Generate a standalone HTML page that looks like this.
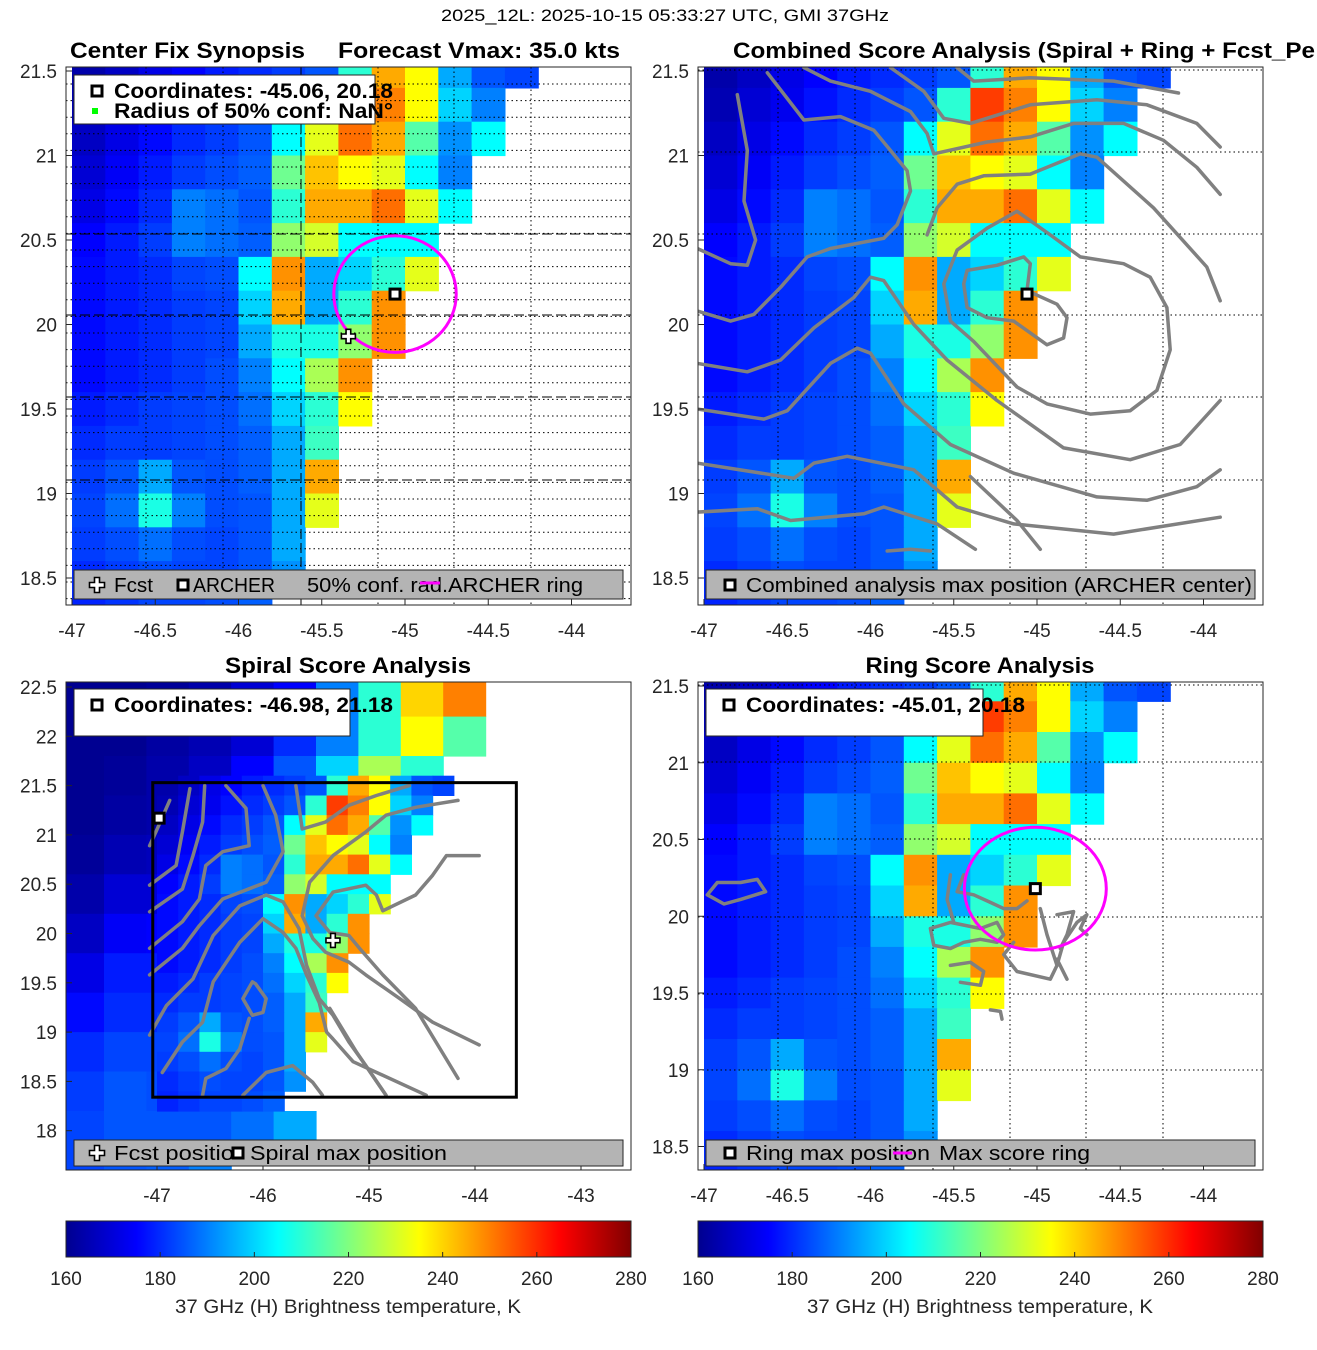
<!DOCTYPE html>
<html><head><meta charset="utf-8"><style>
html,body{margin:0;padding:0;background:#fff;}
svg{display:block;font-family:"Liberation Sans",sans-serif;}
</style></head><body>
<svg id="fig" width="1317" height="1350" viewBox="0 0 1317 1350" xmlns="http://www.w3.org/2000/svg">
<defs>
<linearGradient id="jet" x1="0" x2="1" y1="0" y2="0">
<stop offset="0" stop-color="#00008f"/><stop offset="0.125" stop-color="#0000ff"/><stop offset="0.375" stop-color="#00ffff"/><stop offset="0.625" stop-color="#ffff00"/><stop offset="0.875" stop-color="#ff0000"/><stop offset="1" stop-color="#800000"/>
</linearGradient>
<clipPath id="cTL"><rect x="66" y="67" width="565" height="538"/></clipPath>
<clipPath id="cTR"><rect x="698" y="67" width="565" height="538"/></clipPath>
<clipPath id="cBL"><rect x="66" y="682" width="565" height="488"/></clipPath>
<clipPath id="cBR"><rect x="698" y="682" width="565" height="488"/></clipPath>
</defs>
<text x="665" y="21" font-size="17" text-anchor="middle" textLength="448" lengthAdjust="spacingAndGlyphs">2025_12L: 2025-10-15 05:33:27 UTC, GMI 37GHz</text>
<text x="70" y="58" font-size="22" font-weight="bold" textLength="235" lengthAdjust="spacingAndGlyphs">Center Fix Synopsis</text>
<text x="338" y="58" font-size="22" font-weight="bold" textLength="282" lengthAdjust="spacingAndGlyphs">Forecast Vmax: 35.0 kts</text>
<text x="733" y="58" font-size="22" font-weight="bold" textLength="582" lengthAdjust="spacingAndGlyphs">Combined Score Analysis (Spiral + Ring + Fcst_Pe</text>
<text x="348" y="673" font-size="22" font-weight="bold" text-anchor="middle" textLength="246" lengthAdjust="spacingAndGlyphs">Spiral Score Analysis</text>
<text x="980" y="673" font-size="22" font-weight="bold" text-anchor="middle" textLength="229" lengthAdjust="spacingAndGlyphs">Ring Score Analysis</text>
<g id="layer"></g>
</svg>
<script>
// ---- data ----
const lonCenters = [-46.9,-46.7,-46.5,-46.3,-46.1,-45.9,-45.7,-45.5,-45.3,-45.1,-44.9,-44.7,-44.5,-44.3,-44.1,-43.9,-43.7];
const latCenters = [21.5,21.3,21.1,20.9,20.7,20.5,20.3,20.1,19.9,19.7,19.5,19.3,19.1,18.9,18.7,18.5,18.3];
const N = null;
const tbRows = [
[165,168,172,175,178,180,182,185,210,245,235,195,185,183,N,N,N],
[166,170,173,177,180,182,185,210,258,250,235,200,190,N,N,N,N],
[168,172,176,180,182,185,205,232,252,245,215,192,205,N,N,N,N],
[170,174,178,182,184,186,218,242,235,232,205,190,N,N,N,N,N],
[172,176,180,190,188,185,210,245,245,252,232,205,N,N,N,N,N],
[175,178,182,190,188,186,222,230,205,205,205,N,N,N,N,N,N],
[176,178,180,183,184,205,248,195,200,210,232,N,N,N,N,N,N],
[176,178,180,182,183,200,245,195,210,248,N,N,N,N,N,N,N],
[176,178,180,182,183,195,208,208,222,248,N,N,N,N,N,N,N],
[176,178,180,182,184,190,205,225,248,N,N,N,N,N,N,N,N],
[178,180,182,183,184,188,200,210,235,N,N,N,N,N,N,N,N],
[180,182,182,183,184,186,195,212,N,N,N,N,N,N,N,N,N],
[182,185,195,185,184,186,195,245,N,N,N,N,N,N,N,N,N],
[183,188,208,190,184,185,195,232,N,N,N,N,N,N,N,N,N],
[182,184,188,184,183,185,195,N,N,N,N,N,N,N,N,N,N],
[180,182,184,183,183,185,192,N,N,N,N,N,N,N,N,N,N],
[179,181,183,183,184,186,N,N,N,N,N,N,N,N,N,N,N]];
const outerLons = [-47.7,-47.3,-46.9,-46.5,-46.1,-45.7,-45.3,-44.9,-44.5,-44.1,-43.7,-43.3,-42.9];
const outerLats = [22.4,22.0,21.6,21.2,20.8,20.4,20.0,19.6,19.2,18.8,18.4,18.0,17.6];
const outerRows = [
[162,162,163,165,170,175,190,210,240,250,N,N,N],
[162,162,164,166,170,180,190,210,235,215,N,N,N],
[162,163,165,168,175,185,200,225,210,N,N,N,N],
[162,164,165,N,N,N,N,N,N,N,N,N,N],
[163,166,167,N,N,N,N,N,N,N,N,N,N],
[165,170,170,N,N,N,N,N,N,N,N,N,N],
[168,174,175,N,N,N,N,N,N,N,N,N,N],
[172,178,178,N,N,N,N,N,N,N,N,N,N],
[176,180,180,N,N,N,N,N,N,N,N,N,N],
[180,183,183,N,N,N,N,N,N,N,N,N,N],
[182,185,184,N,N,N,N,N,N,N,N,N,N],
[183,185,185,185,188,195,N,N,N,N,N,N,N],
[183,185,186,190,N,N,N,N,N,N,N,N,N]];
const cbTicks = [160,180,200,220,240,260,280];
const xTicksMain = [-47,-46.5,-46,-45.5,-45,-44.5,-44];
const xTickLabelsMain = ["-47","-46.5","-46","-45.5","-45","-44.5","-44"];
const yTicksMain = [21.5,21,20.5,20,19.5,19,18.5];
const yTickLabelsMain = ["21.5","21","20.5","20","19.5","19","18.5"];
const xTicksSpiral = [-47,-46,-45,-44,-43];
const xTickLabelsSpiral = ["-47","-46","-45","-44","-43"];
const yTicksSpiral = [22.5,22,21.5,21,20.5,20,19.5,19,18.5,18];
const yTickLabelsSpiral = ["22.5","22","21.5","21","20.5","20","19.5","19","18.5","18"];
const archerCenter = [-45.06,20.18];
const combinedCenter = [-45.06,20.18];
const ringCenter = [-45.01,20.18];
const fcstPos = [-45.34,19.93];
const spiralMax = [-46.98,21.17];
const confRadiusLat = 0.345, ringRadiusLat = 0.40;
const combinedContours = [
[[-46.80,21.36],[-46.74,21.03],[-46.76,20.73],[-46.69,20.50],[-46.74,20.35],[-46.84,20.36],[-47.04,20.45]],
[[-46.62,21.49],[-46.40,21.21],[-46.18,21.23],[-45.98,21.15],[-45.78,20.91],[-45.76,20.79],[-45.84,20.59],[-45.92,20.51],[-46.24,20.45],[-46.38,20.40],[-46.54,20.22],[-46.70,20.06],[-46.84,20.02],[-47.04,20.08]],
[[-46.40,21.52],[-46.24,21.44],[-46.00,21.38],[-45.76,21.26],[-45.66,21.13],[-45.62,21.01],[-45.30,21.08],[-45.04,21.11],[-44.78,21.19],[-44.48,21.19],[-44.24,21.09],[-44.04,20.93],[-43.90,20.77]],
[[-45.88,21.52],[-45.68,21.38],[-45.56,21.22],[-45.40,21.19],[-45.04,21.30],[-44.64,21.33],[-44.34,21.30],[-44.04,21.19],[-43.90,21.05]],
[[-45.48,21.52],[-45.38,21.44],[-45.04,21.46],[-44.54,21.44],[-44.15,21.37]],
[[-45.66,20.53],[-45.60,20.69],[-45.48,20.83],[-45.32,20.88],[-45.04,20.89],[-44.74,21.01],[-44.64,20.99],[-44.30,20.69],[-43.98,20.34],[-43.90,20.14]],
[[-45.12,20.67],[-45.30,20.57],[-45.48,20.44],[-45.56,20.24],[-45.52,20.02],[-45.38,19.90],[-45.12,19.63],[-44.94,19.53],[-44.68,19.47],[-44.44,19.49],[-44.28,19.61],[-44.20,19.85],[-44.22,20.10],[-44.32,20.28],[-44.48,20.36],[-44.74,20.40],[-44.92,20.53],[-45.12,20.67]],
[[-45.44,20.24],[-45.42,20.32],[-45.24,20.35],[-45.08,20.40],[-45.04,20.36],[-45.06,20.20],[-44.88,20.12],[-44.82,20.04],[-44.84,19.92],[-44.94,19.88],[-45.14,20.02],[-45.30,20.04],[-45.42,20.10],[-45.44,20.24]],
[[-47.04,19.77],[-46.74,19.72],[-46.54,19.79],[-46.34,19.98],[-46.10,20.16],[-46.00,20.28],[-45.92,20.26],[-45.74,20.00],[-45.54,19.79],[-45.24,19.55],[-45.04,19.41],[-44.84,19.27],[-44.44,19.20],[-44.14,19.29],[-43.90,19.55]],
[[-47.04,19.50],[-46.64,19.44],[-46.50,19.49],[-46.24,19.77],[-46.08,19.86],[-46.00,19.83],[-45.80,19.53],[-45.52,19.29],[-45.14,19.12],[-44.64,18.98],[-44.34,18.96],[-44.04,19.04],[-43.90,19.14]],
[[-47.04,19.18],[-46.46,19.09],[-46.34,19.18],[-46.14,19.22],[-45.74,19.14],[-45.48,18.92],[-45.14,18.82],[-44.54,18.76],[-43.90,18.86]],
[[-47.04,18.89],[-46.68,18.91],[-46.48,18.84],[-46.04,18.88],[-45.92,18.92],[-45.60,18.82],[-45.37,18.67]],
[[-45.40,19.10],[-45.12,18.84],[-44.98,18.67]],
[[-45.90,18.66],[-45.76,18.67],[-45.64,18.66]]];
const spiralContours = [
[[-46.88,21.35],[-47.01,21.03],[-47.07,20.89]],
[[-46.69,21.47],[-46.76,21.03],[-46.82,20.69],[-47.07,20.49]],
[[-46.55,21.50],[-46.57,21.13],[-46.66,20.79],[-46.76,20.45],[-47.07,20.22]],
[[-46.35,21.50],[-46.16,21.27],[-46.13,20.89],[-46.38,20.83],[-46.54,20.69],[-46.60,20.35],[-46.76,20.12],[-47.07,19.85]],
[[-46.00,21.50],[-45.88,21.20],[-45.81,20.83],[-45.97,20.52],[-46.38,20.35],[-46.60,20.08],[-46.76,19.85],[-47.07,19.58]],
[[-45.69,21.50],[-45.63,21.06],[-45.41,21.13],[-45.19,21.30],[-44.93,21.40],[-44.62,21.50]],
[[-44.16,21.35],[-44.56,21.28],[-44.84,21.20],[-45.03,21.03],[-45.34,20.79],[-45.56,20.52],[-45.63,20.18],[-45.53,19.95],[-45.41,19.81],[-45.19,19.71],[-45.03,19.58],[-44.71,19.34],[-44.40,19.10],[-43.96,18.87]],
[[-43.96,20.79],[-44.27,20.79],[-44.40,20.59],[-44.56,20.39],[-44.87,20.23],[-44.93,20.39],[-45.03,20.49],[-45.34,20.42],[-45.50,20.18],[-45.37,20.01],[-45.19,19.98],[-45.09,19.85],[-44.87,19.58],[-44.56,19.24],[-44.16,18.53]],
[[-47.07,18.97],[-46.91,19.27],[-46.66,19.54],[-46.47,19.98],[-46.22,20.28],[-45.97,20.39],[-45.81,20.32],[-45.66,20.05],[-45.59,19.68],[-45.47,19.34],[-45.34,19.17],[-45.19,18.90],[-45.03,18.66],[-44.84,18.36]],
[[-46.95,18.59],[-46.76,18.90],[-46.57,19.10],[-46.47,19.51],[-46.22,19.91],[-46.00,20.15],[-45.81,20.01],[-45.69,19.85],[-45.59,19.58],[-45.47,19.30],[-45.40,19.00],[-45.34,18.93],[-45.15,18.70],[-44.46,18.36]],
[[-46.07,19.49],[-46.10,19.51],[-46.19,19.34],[-46.10,19.17],[-46.00,19.20],[-45.97,19.34],[-46.07,19.49]],
[[-46.13,19.14],[-46.22,18.83],[-46.35,18.63],[-46.54,18.53],[-46.57,18.36]],
[[-46.19,18.36],[-45.97,18.59],[-45.72,18.66],[-45.53,18.49],[-45.44,18.36]],
[[-45.37,19.24],[-45.12,18.80],[-44.84,18.36]]];
const ringContours = [
[[-46.98,20.14],[-46.92,20.22],[-46.78,20.22],[-46.68,20.24],[-46.63,20.16],[-46.78,20.11],[-46.88,20.08],[-46.98,20.14]],
[[-45.44,20.27],[-45.48,20.16],[-45.38,20.14],[-45.28,20.09],[-45.20,20.05],[-45.12,20.05],[-45.06,20.10]],
[[-45.64,19.92],[-45.52,19.96],[-45.34,19.92],[-45.24,19.96],[-45.20,19.88],[-45.24,19.83],[-45.34,19.85],[-45.44,19.83],[-45.52,19.79],[-45.62,19.81],[-45.64,19.92]],
[[-45.52,20.27],[-45.54,20.11],[-45.50,19.96]],
[[-45.52,19.68],[-45.40,19.70],[-45.32,19.64],[-45.34,19.55],[-45.46,19.57]],
[[-44.98,20.05],[-44.94,19.88],[-44.88,19.68],[-44.92,19.59],[-45.12,19.64],[-45.20,19.75],[-45.14,19.83]],
[[-44.88,19.68],[-44.84,19.83],[-44.76,19.96],[-44.70,20.01],[-44.74,19.92],[-44.70,19.88]],
[[-44.88,19.72],[-44.82,19.59]],
[[-45.28,19.39],[-45.22,19.38],[-45.21,19.33]],
[[-44.88,20.01],[-44.78,20.03],[-44.82,19.88],[-44.86,19.79]]];

// ---- helpers ----
const NS = "http://www.w3.org/2000/svg";
const layer = document.getElementById('layer');
function mk(tag, attrs, parent){const e=document.createElementNS(NS,tag);for(const k in attrs)e.setAttribute(k,attrs[k]);(parent||layer).appendChild(e);return e;}
function jet(v){const t=Math.max(0,Math.min(1,(v-160)/120));const c=x=>Math.round(255*Math.max(0,Math.min(1,1.5-Math.abs(4*t-x))));return `rgb(${c(3)},${c(2)},${c(1)})`;}
function axes(px, py, w, h, lonRef, xRef, sx, latRef, yRef, sy){return {px,py,w,h,x:lon=>xRef+(lon-lonRef)*sx,y:lat=>yRef+(latRef-lat)*sy,sx,sy};}
const TL = axes(66,67,565,538,-47,72,166.5,21.5,71,169);
const TR = axes(698,67,565,538,-47,704,166.5,21.5,71,169);
const BL = axes(66,682,565,488,-47,157,106,22.5,687,98.6);
const BR = axes(698,682,565,488,-47,704,166.5,21.5,686,153.5);

function drawGrid(ax, lons, lats, rows, step, g, nm){
  rows.forEach((row,j)=>row.forEach((v,i)=>{
    if(v===null) return;
    const x0=ax.x(lons[i]-step/2), x1=ax.x(lons[i]+step/2), y0=ax.y(lats[j]+step/2), y1=ax.y(lats[j]-step/2);
    const r=mk('rect',{x:x0.toFixed(1),y:y0.toFixed(1),width:(x1-x0+0.6).toFixed(1),height:(y1-y0+0.6).toFixed(1),fill:jet(v)},g);
    
    
  }));
}
function drawContours(ax, list, g){
  list.forEach(c=>{
    const p=mk('polyline',{points:c.map(q=>ax.x(q[0]).toFixed(1)+','+ax.y(q[1]).toFixed(1)).join(' '),fill:'none',stroke:'#808080','stroke-width':3.5,'stroke-linejoin':'round','stroke-linecap':'round'},g);
    
    
  });
}
function squareMarker(ax, pt, g, nm){
  const x=ax.x(pt[0]), y=ax.y(pt[1]);
  const r=mk('rect',{x:x-5,y:y-5,width:10,height:10,fill:'#fff',stroke:'#000','stroke-width':3},g);
  
  
}
function plusPath(x,y,s){const a=s/2,b=s/6;return `M${x-b},${y-a}H${x+b}V${y-b}H${x+a}V${y+b}H${x+b}V${y+a}H${x-b}V${y+b}H${x-a}V${y-b}H${x-b}Z`;}
function plusMarker(ax, pt, g, nm){
  const p=mk('path',{d:plusPath(ax.x(pt[0]),ax.y(pt[1]),14),fill:'#fff',stroke:'#000','stroke-width':1.6},g);
  
  
}
function ring(ax, pt, rLat, g, nm){
  const rLon=rLat/Math.cos(pt[1]*Math.PI/180);
  const e=mk('ellipse',{cx:ax.x(pt[0]),cy:ax.y(pt[1]),rx:rLon*ax.sx,ry:rLat*ax.sy,fill:'none',stroke:'#ff00ff','stroke-width':3},g);
  
  
}
function ticks(ax, xt, xl, yt, yl, name){
  const g=mk('g',{});
  
  
  const bottom=ax.py+ax.h;
  xt.forEach((v,i)=>{const x=ax.x(v);
    mk('line',{x1:x,x2:x,y1:bottom,y2:bottom-6,stroke:'#262626'},g);
    const t=mk('text',{x:x,y:bottom+32,'font-size':19,'text-anchor':'middle',fill:'#262626'},g);t.textContent=xl[i];
    
    });
  yt.forEach((v,i)=>{const y=ax.y(v);
    mk('line',{x1:ax.px,x2:ax.px+6,y1:y,y2:y,stroke:'#262626'},g);
    const t=mk('text',{x:ax.px-9,y:y+7,'font-size':19,'text-anchor':'end',fill:'#262626'},g);t.textContent=yl[i];
    
    });
}
function txt(x,y,s,str,g,nm,opts){const t=mk('text',Object.assign({x:x,y:y,'font-size':s},opts||{}),g);t.textContent=str;return t;}
function legendSquare(x,y,g){mk('rect',{x:x-5,y:y-5,width:10,height:10,fill:'#fff',stroke:'#000','stroke-width':3},g);}
function legendPlus(x,y,g){mk('path',{d:plusPath(x,y,15),fill:'#fff',stroke:'#000','stroke-width':1.6},g);}

// ---- panel TL ----
(function(){
  const g=mk('g',{'clip-path':'url(#cTL)'});
  
  
  drawGrid(TL, lonCenters, latCenters, tbRows, 0.2, g, 'tb-cell');
  const gg=mk('g',{stroke:'#000','stroke-width':1},g);
  
  
  [146,223,301,378,454,531].forEach(x=>mk('line',{x1:x,x2:x,y1:67,y2:605,'stroke-dasharray':x===301?'10,4':'1.5,3'},gg));
  for(let y=84;y<605;y+=16.6){mk('line',{x1:66,x2:631,y1:y,y2:y,'stroke-dasharray':'1.5,3'},gg);}
  [234,315,397,480].forEach(y=>mk('line',{x1:66,x2:631,y1:y,y2:y,'stroke-dasharray':'10,4'},gg));
  ring(TL, archerCenter, confRadiusLat, g, 'conf-radius-ring');
  squareMarker(TL, archerCenter, g, 'archer-marker');
  plusMarker(TL, fcstPos, g, 'fcst-marker');
})();
// ---- panel TR ----
(function(){
  const g=mk('g',{'clip-path':'url(#cTR)'});
  
  
  drawGrid(TR, lonCenters, latCenters, tbRows, 0.2, g, 'tb-cell');
  const gg=mk('g',{stroke:'#000','stroke-width':1,'stroke-dasharray':'1.5,3'},g);
  
  
  [778,855,933,1010,1086,1163].forEach(x=>mk('line',{x1:x,x2:x,y1:67,y2:605},gg));
  [70,152,234,315,397,480].forEach(y=>mk('line',{x1:698,x2:1263,y1:y,y2:y},gg));
  drawContours(TR, combinedContours, g);
  squareMarker(TR, combinedCenter, g, 'combined-max-marker');
})();
// ---- panel BL ----
(function(){
  const g=mk('g',{'clip-path':'url(#cBL)'});
  
  
  mk('rect',{x:66,y:682,width:565,height:488,fill:'#fff'},g);
  drawGrid(BL, outerLons, outerLats, outerRows, 0.4, g, 'tb-cell-outer');
  drawGrid(BL, lonCenters, latCenters, tbRows, 0.2, g, 'tb-cell');
  drawContours(BL, spiralContours, g);
  const b=mk('rect',{x:BL.x(-47.04),y:BL.y(21.53),width:BL.x(-43.61)-BL.x(-47.04),height:BL.y(18.34)-BL.y(21.53),fill:'none',stroke:'#000','stroke-width':3},g);
  
  
  squareMarker(BL, spiralMax, g, 'spiral-max-marker');
  plusMarker(BL, fcstPos, g, 'fcst-marker');
})();
// ---- panel BR ----
(function(){
  const g=mk('g',{'clip-path':'url(#cBR)'});
  
  
  drawGrid(BR, lonCenters, latCenters, tbRows, 0.2, g, 'tb-cell');
  const gg=mk('g',{stroke:'#000','stroke-width':1,'stroke-dasharray':'1.5,3'},g);
  
  
  [778,855,933,1010,1086,1163].forEach(x=>mk('line',{x1:x,x2:x,y1:682,y2:1170},gg));
  [685,762,839,917,994,1070].forEach(y=>mk('line',{x1:698,x2:1263,y1:y,y2:y},gg));
  drawContours(BR, ringContours, g);
  ring(BR, ringCenter, ringRadiusLat, g, 'max-score-ring');
  squareMarker(BR, ringCenter, g, 'ring-max-marker');
})();
// ---- borders & ticks ----
[TL,TR,BL,BR].forEach(ax=>{const r=mk('rect',{x:ax.px,y:ax.py,width:ax.w,height:ax.h,fill:'none',stroke:'#262626','stroke-width':1});});
ticks(TL,xTicksMain,xTickLabelsMain,yTicksMain,yTickLabelsMain,'center-fix');
ticks(TR,xTicksMain,xTickLabelsMain,yTicksMain,yTickLabelsMain,'combined');
ticks(BL,xTicksSpiral,xTickLabelsSpiral,yTicksSpiral,yTickLabelsSpiral,'spiral');
ticks(BR,xTicksMain,xTickLabelsMain,yTicksMain,yTickLabelsMain,'ring');

// ---- legends ----
function topLegend(x,y,w,h,lines,name){
  const g=mk('g',{});
  
  
  mk('rect',{x:x,y:y,width:w,height:h,fill:'#fff',stroke:'#262626','stroke-width':1},g);
  lines.forEach((l,i)=>{
    const cy=y+16+i*20;
    if(l.icon==='sq') legendSquare(x+23,cy,g); else mk('rect',{x:x+18,y:cy-3,width:6,height:6,fill:'#00ff00'},g);
    txt(x+40,cy+7,21,l.text,g,'legend-text',{'font-weight':'bold',textLength:279,lengthAdjust:'spacingAndGlyphs'});
  });
}
topLegend(74,75,301,49,[{icon:'sq',text:'Coordinates: -45.06, 20.18'},{icon:'g',text:'Radius of 50% conf: NaN°'}],'center-fix-legend');
topLegend(74,689,276,47,[{icon:'sq',text:'Coordinates: -46.98, 21.18'}],'spiral-coord-legend');
topLegend(706,689,277,47,[{icon:'sq',text:'Coordinates: -45.01, 20.18'}],'ring-coord-legend');

function botLegend(x,y,w,h,name){
  const g=mk('g',{});
  
  
  mk('rect',{x:x,y:y,width:w,height:h,fill:'#b4b4b4',stroke:'#262626','stroke-width':1},g);
  return g;
}
(function(){
  let g=botLegend(74,570,549,29,'center-fix-bottom-legend');
  legendPlus(97,585,g); txt(114,592,20,'Fcst',g,'legend-fcst',{textLength:39,lengthAdjust:'spacingAndGlyphs'});
  legendSquare(183,585,g); txt(193,592,20,'ARCHER',g,'legend-archer',{textLength:82,lengthAdjust:'spacingAndGlyphs'});
  txt(307,592,20,'50% conf. rad.ARCHER ring',g,'legend-conf-ring',{textLength:276,lengthAdjust:'spacingAndGlyphs'});
  mk('line',{x1:420,x2:440,y1:583,y2:583,stroke:'#ff00ff','stroke-width':3},g);
  g=botLegend(706,570,549,29,'combined-bottom-legend');
  legendSquare(730,585,g); txt(746,592,20,'Combined analysis max position (ARCHER center)',g,'legend-combined',{textLength:506,lengthAdjust:'spacingAndGlyphs'});
  g=botLegend(74,1140,549,26,'spiral-bottom-legend');
  legendPlus(97,1153,g); txt(114,1160,20,'Fcst positio',g,'legend-fcst-position',{textLength:120,lengthAdjust:'spacingAndGlyphs'});
  legendSquare(238,1153,g); txt(250,1160,20,'Spiral max position',g,'legend-spiral-max',{textLength:197,lengthAdjust:'spacingAndGlyphs'});
  g=botLegend(706,1140,549,26,'ring-bottom-legend');
  legendSquare(730,1153,g); txt(746,1160,20,'Ring max position',g,'legend-ring-max',{textLength:184,lengthAdjust:'spacingAndGlyphs'});
  mk('line',{x1:893,x2:912,y1:1153,y2:1153,stroke:'#ff00ff','stroke-width':3},g);
  txt(939,1160,20,'Max score ring',g,'legend-max-ring',{textLength:151,lengthAdjust:'spacingAndGlyphs'});
})();

// ---- colorbars ----
[[66,'left'],[698,'right']].forEach(([x0,nm])=>{
  const g=mk('g',{});
  
  
  mk('rect',{x:x0,y:1221,width:565,height:36,fill:'url(#jet)',stroke:'#262626','stroke-width':1},g);
  cbTicks.forEach(v=>{const x=x0+(v-160)/120*565;
    mk('line',{x1:x,x2:x,y1:1257,y2:1252,stroke:'#262626'},g);
    txt(x,1285,19,String(v),g,'colorbar-tick-label',{'text-anchor':'middle',fill:'#262626'});});
  txt(x0+282,1313,19,'37 GHz (H) Brightness temperature, K',g,'colorbar-title',{'text-anchor':'middle',fill:'#262626',textLength:346,lengthAdjust:'spacingAndGlyphs'});
});
</script>
</body></html>
